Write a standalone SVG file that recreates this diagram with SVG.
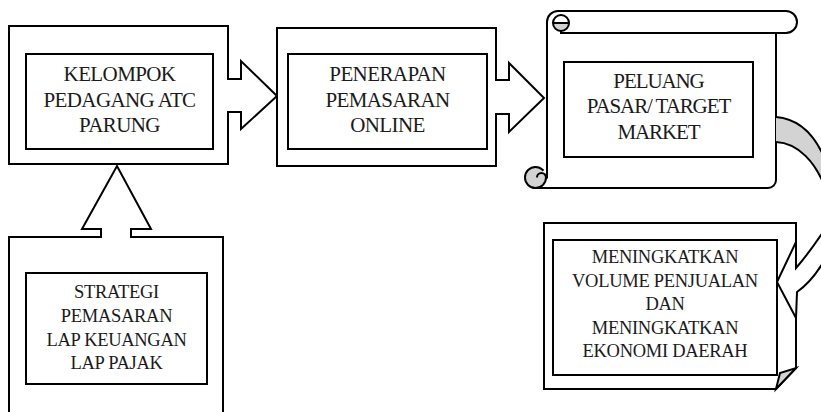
<svg xmlns="http://www.w3.org/2000/svg" width="821" height="412" viewBox="0 0 821 412">
<style>
.o{fill:#fff;stroke:#000;stroke-width:2;stroke-linejoin:miter}
.g{fill:#d3d3d3;stroke:#000;stroke-width:2}
.n{fill:none;stroke:#000;stroke-width:2}
text{font-family:"Liberation Serif","Times New Roman",serif;fill:#1a1a1a;text-anchor:middle}
.t20{font-size:21px;letter-spacing:-0.6px}
.t19{font-size:21px;letter-spacing:-1.1px}
.t18{font-size:18.5px;letter-spacing:-0.3px}
</style>
<rect width="821" height="412" fill="#fff"/>
<g id="node-kelompok">
<path class="o" d="M9,26 L228,26 L228,79 L241,79 L241,61 L277,96 L241,129 L241,112 L228,112 L228,164 L9,164 Z"/>
<rect class="o" x="26" y="54" width="187" height="95"/>
<text class="t20" x="119.5" y="81">KELOMPOK</text>
<text class="t20" x="119.5" y="107">PEDAGANG ATC</text>
<text class="t20" x="119.5" y="132">PARUNG</text>
</g>
<g id="node-penerapan">
<path class="o" d="M277,28 L496,28 L496,80 L509,80 L509,63 L544,98 L509,132 L509,114 L496,114 L496,166 L277,166 Z"/>
<rect class="o" x="288" y="54" width="199" height="95"/>
<text class="t20" x="387.5" y="81">PENERAPAN</text>
<text class="t20" x="387.5" y="107">PEMASARAN</text>
<text class="t20" x="387.5" y="132">ONLINE</text>
</g>
<g id="node-peluang">
<path class="o" d="M547,22 A11,11 0 0 1 558,11 L786,11 A11,11 0 0 1 786,33 L776,33 L776,180 A8,8 0 0 1 768,188 L535,188 L547,177 Z"/>
<circle class="g" cx="535.5" cy="177.5" r="10.5"/>
<path class="o" d="M537,177.5 A4.5,4.5 0 0 1 546,177.5 L547,177.5 L547,167"/>
<path class="g" d="M553,23 A8,8 0 0 0 569,23 Z"/>
<path class="n" d="M553,23 A8,8 0 0 1 569,23 M561,31 L561,33 L776,33"/>
<rect class="o" x="564" y="62" width="189" height="95"/>
<text class="t19" x="658.5" y="88">PELUANG</text>
<text class="t19" x="658.5" y="113">PASAR/ TARGET</text>
<text class="t19" x="658.5" y="139">MARKET</text>
</g>
<g id="node-strategi">
<path class="o" d="M9,414 L9,237 L101,237 L101,229 L82,229 L117,166 L151,229 L131,229 L131,237 L223,237 L223,414"/>
<rect class="o" x="26" y="273" width="181" height="111"/>
<text class="t18" x="116.5" y="298">STRATEGI</text>
<text class="t18" x="116.5" y="322">PEMASARAN</text>
<text class="t18" x="116.5" y="346">LAP KEUANGAN</text>
<text class="t18" x="116.5" y="369">LAP PAJAK</text>
</g>
<g id="node-meningkatkan">
<path class="o" d="M544,223 L796,223 L796,368 L776,389 L544,389 Z"/>
<path class="g" d="M796,368 L776,389 L780,373 Z"/>
<rect class="o" x="553" y="240" width="224" height="135"/>
<text class="t18" x="665" y="263">MENINGKATKAN</text>
<text class="t18" x="665" y="287">VOLUME PENJUALAN</text>
<text class="t18" x="665" y="310">DAN</text>
<text class="t18" x="665" y="334">MENINGKATKAN</text>
<text class="t18" x="665" y="357">EKONOMI DAERAH</text>
</g>
<g id="connectors">
<path class="g" d="M776,117 C800,119 816,136 826,162 L826,190 C816,162 798,143 776,142"/>
<path class="o" d="M827,226 Q810,252 796,268 L796,242 L777,282 L796,318 L797,292 Q813,281 827,256 Z"/>
</g>
</svg>
